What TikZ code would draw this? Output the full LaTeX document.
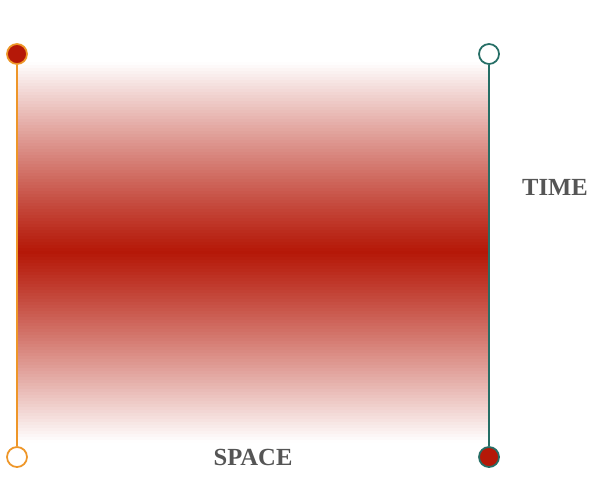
\documentclass[tikz,border=0pt]{standalone}
\usepackage{fontspec}
\setmainfont{Liberation Serif}
\definecolor{bandred}{RGB}{181,24,8}
\definecolor{lineorange}{RGB}{238,150,40}
\definecolor{lineteal}{RGB}{38,110,102}
\definecolor{labelgray}{RGB}{85,85,85}
\begin{document}
\begin{tikzpicture}[
    x=0.03cm, y=-0.03cm,
    dot/.style={draw, circle, minimum size=0.6cm, inner sep=0pt, line width=1.5pt},
    axis/.style={line width=1pt},
    axislabel/.style={text=labelgray, font=\fontsize{21}{24}\selectfont\bfseries}
]
    \useasboundingbox (0,0) rectangle (600,500);

    % Bandă de culoare (benzi subțiri, roșu maxim la mijloc)
    \foreach \k in {0,...,126} {
        \pgfmathsetmacro{\ytop}{62+3*\k}
        \pgfmathsetmacro{\tt}{max(abs(\ytop+1.5-252)/190,0.001)}
        \pgfmathsetmacro{\pct}{max(100*(1-pow(\tt,1.1)),0)}
        \fill[bandred!\pct!white] (17,\ytop) rectangle (489,\ytop+3.3);
    }

    % Capete stânga
    \node[dot, lineorange, fill=bandred] (lt) at (17,54) {};
    \node[dot, lineorange, fill=white] (lb) at (17,457) {};

    % Capete dreapta
    \node[dot, lineteal, fill=white] (rt) at (489,54) {};
    \node[dot, lineteal, fill=bandred] (rb) at (489,457) {};

    % Linii
    \draw[axis, lineorange] (lt) -- (lb);
    \draw[axis, lineteal] (rt) -- (rb);

    % Etichete
    \node[axislabel] (time) at (555,187) {TIME};
    \node[axislabel] (space) at (253,457) {SPACE};
\end{tikzpicture}
\end{document}
